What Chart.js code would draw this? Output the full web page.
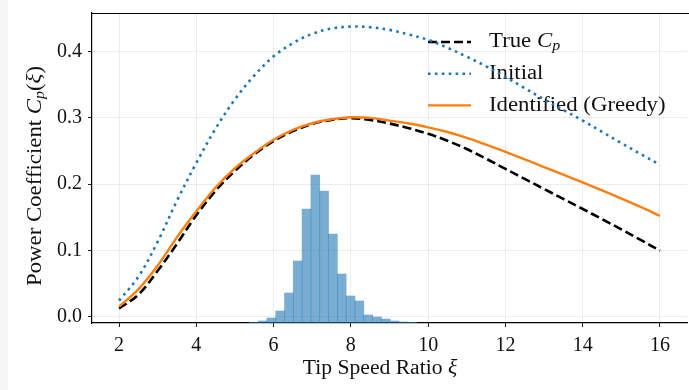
<!DOCTYPE html>
<html>
<head>
<meta charset="utf-8">
<script src="https://cdn.jsdelivr.net/npm/chart.js@4.4.0/dist/chart.umd.min.js"></script>
<style>
  html, body { margin: 0; padding: 0; background: #fff; overflow: hidden; }
  #strip { position: absolute; left: 0; top: 0; width: 8px; height: 390px; background: #f6f6f6; }
  #wrap { position: absolute; left: 0; top: 0; width: 689px; height: 390px; }
</style>
</head>
<body>
<div id="strip"></div>
<div id="wrap"><canvas id="myChart" width="689" height="390"></canvas></div>
<script>
// tip speed ratio samples
var xs = [2, 2.5, 3, 3.5, 4, 4.5, 5, 5.5, 6, 6.5, 7, 7.5, 8, 8.5, 9, 9.5,
          10, 10.5, 11, 11.5, 12, 12.5, 13, 13.5, 14, 14.5, 15, 15.5, 16];
var trueCp = [0.012, 0.033, 0.069, 0.110, 0.153, 0.190, 0.220, 0.245, 0.265, 0.280, 0.291, 0.297, 0.2995, 0.297, 0.2915, 0.2845,
              0.2760, 0.2655, 0.2530, 0.2385, 0.2230, 0.2078, 0.1927, 0.1776, 0.1625, 0.1472, 0.1316, 0.1157, 0.0994];
var initialCp = [0.024, 0.060, 0.113, 0.175, 0.232, 0.284, 0.328, 0.364, 0.393, 0.413, 0.427, 0.435, 0.438, 0.437, 0.433, 0.426,
                 0.418, 0.406, 0.3925, 0.378, 0.362, 0.345, 0.328, 0.312, 0.296, 0.279, 0.262, 0.2455, 0.229];
var greedyCp = [0.015, 0.041, 0.077, 0.120, 0.159, 0.195, 0.224, 0.247, 0.267, 0.282, 0.292, 0.298, 0.301, 0.300, 0.296, 0.2915,
                0.2858, 0.2787, 0.2700, 0.2598, 0.2487, 0.2373, 0.2258, 0.2142, 0.2025, 0.1905, 0.1782, 0.1655, 0.152];

// histogram of operating points (bin centres and bar tops)
var binCenters = [5.484, 5.712, 5.94, 6.168, 6.396, 6.624, 6.852, 7.08, 7.308, 7.536,
                  7.764, 7.992, 8.22, 8.448, 8.676, 8.904, 9.132, 9.36, 9.588];
var binTops = [-0.0088, -0.0068, -0.0023, 0.0083, 0.0355, 0.0838, 0.1624, 0.2137, 0.1896, 0.1246,
               0.0642, 0.0310, 0.0234, 0.0023, -0.0008, -0.0038, -0.0068, -0.0083, -0.0088];

var xTicks = [2, 4, 6, 8, 10, 12, 14, 16];
var yTicks = [0.0, 0.1, 0.2, 0.3, 0.4];

var X_MIN = 1.3, X_MAX = 16.7;
var Y_MIN = -0.0098, Y_MAX = 0.4585;

var SERIF = "'Liberation Serif', 'DejaVu Serif', serif";
var TEXT = '#111';

function pts(ys) {
    return xs.map(function (x, i) { return { x: x, y: ys[i] }; });
}

function measureRuns(ctx, runs, size) {
    return runs.map(function (r) {
        var s = r.sub ? size * 0.7 : size;
        var f = (r.it ? 'italic ' : '') + s + 'px ' + SERIF;
        ctx.font = f;
        return { t: r.t, f: f, w: ctx.measureText(r.t).width, dy: r.sub ? size * 0.22 : 0 };
    });
}

// draw a row of text runs (italic / subscript pieces); align 'center' or 'left'
// stretch widens the times-like glyphs toward the computer modern look
function richText(ctx, runs, x, y, size, align, stretch) {
    var parts = measureRuns(ctx, runs, size);
    var total = parts.reduce(function (a, p) { return a + p.w; }, 0);
    ctx.save();
    ctx.translate(x, y);
    ctx.scale(stretch || 1.14, 1);
    var cx = align === 'left' ? 0 : -total / 2;
    ctx.textAlign = 'left';
    ctx.textBaseline = 'middle';
    ctx.fillStyle = TEXT;
    parts.forEach(function (p) {
        ctx.font = p.f;
        ctx.fillText(p.t, cx, p.dy);
        cx += p.w;
    });
    ctx.restore();
}

var legendRows = [
    { ds: 0, runs: [{ t: 'True ' }, { t: 'C', it: true }, { t: 'p', it: true, sub: true }] },
    { ds: 1, runs: [{ t: 'Initial' }] },
    { ds: 2, runs: [{ t: 'Identified (Greedy)' }] }
];

var overlay = {
    id: 'overlay',
    beforeDatasetsDraw: function (chart) {
        var ctx = chart.ctx;
        ctx.save();
        legendRows.forEach(function (row, i) {
            var ds = chart.data.datasets[row.ds];
            var y = 42 + i * 31.7;
            ctx.beginPath();
            ctx.strokeStyle = ds.borderColor;
            ctx.lineWidth = ds.borderWidth;
            ctx.setLineDash(ds.borderDash || []);
            ctx.lineCap = 'butt';
            ctx.moveTo(428, y);
            ctx.lineTo(471, y);
            ctx.stroke();
            ctx.setLineDash([]);
            richText(ctx, row.runs, 489, y, 20, 'left');
        });
        ctx.restore();
    },
    afterDraw: function (chart) {
        var ctx = chart.ctx, a = chart.chartArea;
        ctx.save();
        // top spine
        ctx.beginPath();
        ctx.strokeStyle = '#000';
        ctx.lineWidth = 1.2;
        ctx.moveTo(a.left, a.top + 0.5);
        ctx.lineTo(chart.width, a.top + 0.5);
        ctx.stroke();
        // axis titles
        richText(ctx, [{ t: 'Tip Speed Ratio ' }, { t: 'ξ', it: true }], 380, 369, 20, 'center', 1.08);
        ctx.translate(36, (a.top + a.bottom) / 2 + 8);
        ctx.rotate(-Math.PI / 2);
        richText(ctx, [{ t: 'Power Coefficient ' }, { t: 'C', it: true }, { t: 'p', it: true, sub: true },
                       { t: '(' }, { t: 'ξ', it: true }, { t: ')' }], 0, 0, 20);
        ctx.restore();
    }
};

var ctx = document.getElementById('myChart').getContext('2d');
var myChart = new Chart(ctx, {
    type: 'line',
    data: {
        datasets: [{
            label: 'True Cp',
            data: pts(trueCp),
            borderColor: '#000000',
            borderWidth: 2.6,
            borderDash: [9, 4],
            tension: 0.35,
            pointRadius: 0,
            order: 1
        }, {
            label: 'Initial',
            data: pts(initialCp),
            borderColor: '#1f77b4',
            borderWidth: 2.6,
            borderDash: [2.6, 4.3],
            tension: 0.35,
            pointRadius: 0,
            order: 2
        }, {
            label: 'Identified (Greedy)',
            data: pts(greedyCp),
            borderColor: '#ff7f0e',
            borderWidth: 2.4,
            tension: 0.35,
            pointRadius: 0,
            order: 0
        }, {
            type: 'bar',
            label: 'hist',
            data: binCenters.map(function (c, i) { return { x: c, y: binTops[i] }; }),
            base: Y_MIN,
            backgroundColor: 'rgba(31,119,180,0.6)',
            borderWidth: 0,
            barPercentage: 1,
            categoryPercentage: 1,
            order: 5
        }]
    },
    options: {
        responsive: false,
        animation: false,
        layout: { padding: { top: 13, right: 2, left: 0, bottom: 0 } },
        plugins: {
            legend: { display: false },
            tooltip: { enabled: false }
        },
        scales: {
            x: {
                type: 'linear',
                offset: false,
                min: X_MIN,
                max: X_MAX,
                afterBuildTicks: function (s) { s.ticks = xTicks.map(function (v) { return { value: v }; }); },
                afterFit: function (s) { s.height = 67; s.paddingLeft = 0; s.paddingRight = 0; },
                ticks: {
                    color: TEXT,
                    padding: 7,
                    maxRotation: 0,
                    font: { family: SERIF, size: 20 },
                    callback: function (v) { return String(v); }
                },
                grid: { offset: false, color: '#ececec', lineWidth: 1, tickLength: 4, tickColor: '#222' },
                border: { color: '#000', width: 1.2 }
            },
            y: {
                min: Y_MIN,
                max: Y_MAX,
                afterBuildTicks: function (s) { s.ticks = yTicks.map(function (v) { return { value: v }; }); },
                afterFit: function (s) { s.width = 92; s.paddingTop = 0; s.paddingBottom = 0; },
                ticks: {
                    color: TEXT,
                    padding: 6,
                    font: { family: SERIF, size: 20 },
                    callback: function (v) { return Number(v).toFixed(1); }
                },
                grid: { color: '#ececec', lineWidth: 1, tickLength: 4, tickColor: '#222' },
                border: { color: '#000', width: 1.2 }
            }
        }
    },
    plugins: [overlay]
});
</script>
</body>
</html>
